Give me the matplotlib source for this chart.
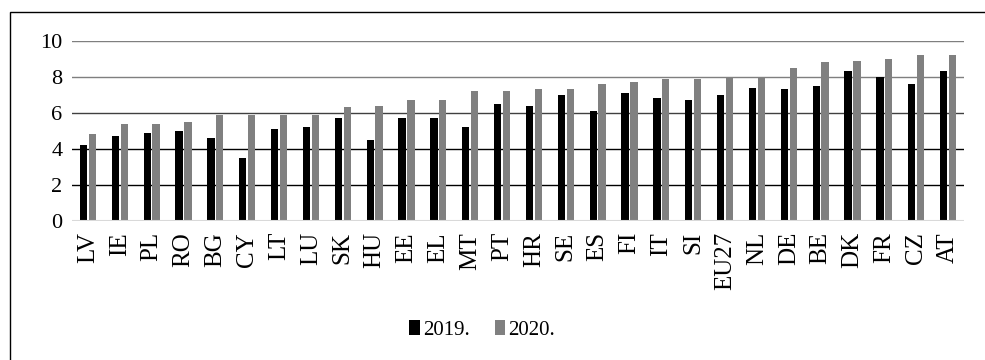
import numpy as np
import matplotlib.pyplot as plt
from matplotlib.patches import Rectangle

# Datos
paises = ["LV", "IE", "PL", "RO", "BG", "CY", "LT", "LU", "SK", "HU", "EE", "EL",
          "MT", "PT", "HR", "SE", "ES", "FI", "IT", "SI", "EU27", "NL", "DE", "BE",
          "DK", "FR", "CZ", "AT"]
v2019 = [4.2, 4.7, 4.9, 5.0, 4.6, 3.5, 5.1, 5.2, 5.7, 4.5, 5.7, 5.7,
         5.2, 6.5, 6.4, 7.0, 6.1, 7.1, 6.8, 6.7, 7.0, 7.4, 7.3, 7.5,
         8.3, 8.0, 7.6, 8.3]
v2020 = [4.8, 5.4, 5.4, 5.5, 5.9, 5.9, 5.9, 5.9, 6.3, 6.4, 6.7, 6.7,
         7.2, 7.2, 7.3, 7.3, 7.6, 7.7, 7.9, 7.9, 8.0, 8.0, 8.5, 8.8,
         8.9, 9.0, 9.2, 9.2]
yticks = [0, 2, 4, 6, 8, 10]

plt.rcParams["font.family"] = ["Liberation Serif", "DejaVu Serif"]

fig = plt.figure(figsize=(9.85, 3.6), dpi=100)
ax = fig.add_axes([72 / 985, 1 - 221 / 360, (964 - 72) / 985, (221 - 40.7) / 360])

# Marco exterior
fig.patches.append(Rectangle((10 / 985, -0.1), 1.2, 1.1 - 12 / 360,
                             transform=fig.transFigure, fill=False,
                             edgecolor="black", linewidth=1.0))

x = np.arange(len(paises))
ax.bar(x - 0.14, v2019, width=0.23, color="black", label="2019.", zorder=3)
ax.bar(x + 0.14, v2020, width=0.23, color="#808080", label="2020.", zorder=3)

# Líneas de cuadrícula
colores = {2: "black", 4: "black", 6: "#404040", 8: "#7f7f7f", 10: "#7f7f7f"}
for t in yticks[1:]:
    ax.axhline(t, color=colores[t], linewidth=1.0, zorder=1)
ax.axhline(0, color="#d9d9d9", linewidth=1.5, zorder=4)

ax.set_xlim(-0.5, len(paises) - 0.5)
ax.set_ylim(0, 10)
ax.set_yticks(yticks)
ax.set_xticks(x)
ax.set_xticklabels(paises, rotation=90, fontsize=18)
ax.tick_params(axis="y", labelsize=16, length=0, pad=7)
ax.tick_params(axis="x", length=0, pad=8)
for s in ax.spines.values():
    s.set_visible(False)

fig.legend(loc="center", bbox_to_anchor=(482 / 985, 1 - 330 / 360), ncol=2,
           frameon=False, fontsize=15, handlelength=0.5, handleheight=0.7,
           handletextpad=0.15, columnspacing=1.2)

fig.savefig("out.png", dpi=100)
